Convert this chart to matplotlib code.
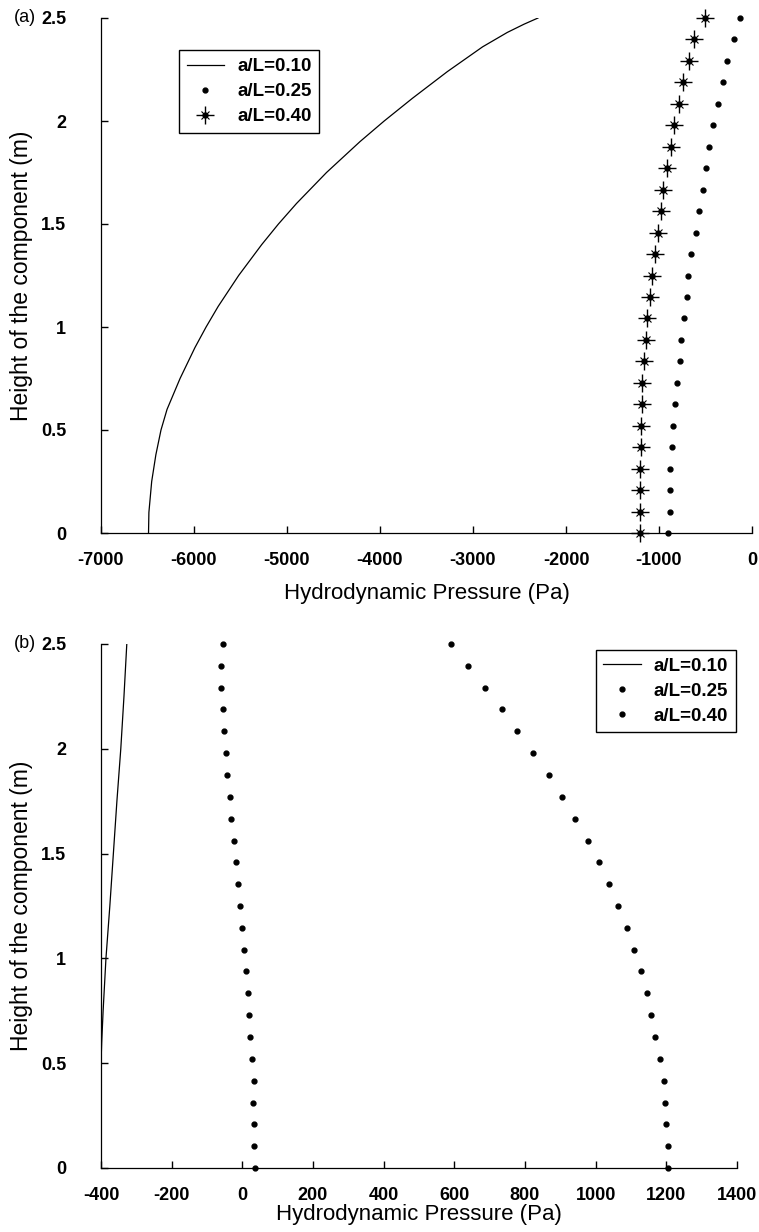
import matplotlib
matplotlib.use("Agg")
import matplotlib.pyplot as plt
from matplotlib.legend_handler import HandlerTuple

plt.rcParams['font.family'] = ['Liberation Sans', 'DejaVu Sans']

# heights of the 25 computed points, top to bottom (m)
heights = [2.5, 2.396, 2.292, 2.188, 2.083, 1.979, 1.875, 1.771, 1.667, 1.562,
           1.458, 1.354, 1.25, 1.146, 1.042, 0.938, 0.833, 0.729, 0.625, 0.521,
           0.417, 0.312, 0.208, 0.104, 0.0]

labels = ['a/L=0.10', 'a/L=0.25', 'a/L=0.40']

# panel (a)
a_line_h = [0.0, 0.1, 0.25, 0.38, 0.5, 0.6, 0.75, 0.9, 1.0, 1.1, 1.25, 1.4,
            1.5, 1.6, 1.75, 1.9, 2.0, 2.11, 2.24, 2.36, 2.43, 2.47, 2.5]
a_line_p = [-6489, -6485, -6455, -6410, -6355, -6290, -6150, -5990, -5870,
            -5740, -5520, -5272, -5092, -4897, -4575, -4215, -3955, -3652,
            -3275, -2897, -2631, -2451, -2301]
a_025 = [-125, -196, -264, -311, -368, -414, -461, -500, -532, -571, -604,
         -657, -686, -704, -729, -761, -779, -807, -825, -846, -864, -882,
         -882, -882, -900]
a_040 = [-507, -625, -679, -739, -789, -836, -871, -918, -954, -982, -1011,
         -1046, -1079, -1096, -1125, -1143, -1161, -1179, -1179, -1196, -1196,
         -1207, -1207, -1207, -1207]

# panel (b)
b_line_h = [2.5, 2.25, 2.0, 1.75, 1.5, 1.25, 1.0, 0.75, 0.6, 0.5, 0.0]
b_line_p = [-327, -335, -344, -355, -365, -375, -386, -394, -398, -400, -400]
b_025 = [-55, -60, -60, -55, -51, -47, -42, -34, -31, -23, -19, -13, -6, -1,
         6, 10, 16, 19, 23, 28, 32, 31, 34, 34, 35]
b_040 = [590, 640, 688, 734, 778, 822, 867, 906, 942, 977, 1009, 1037, 1062,
         1089, 1109, 1129, 1144, 1156, 1169, 1182, 1192, 1195, 1200, 1204, 1205]

W, H = 759, 1232
fig = plt.figure(figsize=(W / 100, H / 100), dpi=100)

ax1 = fig.add_axes([101 / W, 1 - 533 / H, (752 - 101) / W, (533 - 18) / H])
ax2 = fig.add_axes([101 / W, 1 - 1168 / H, (737 - 101) / W, (1168 - 644) / H])

tick_font = dict(fontsize=13, fontweight='bold')


def style(ax, xlim, xticks, xpad):
    ax.set_xlim(*xlim)
    ax.set_ylim(0, 2.5)
    ax.set_xticks(xticks)
    ax.set_yticks([0, 0.5, 1, 1.5, 2, 2.5])
    ax.set_yticklabels(['0', '0.5', '1', '1.5', '2', '2.5'], **tick_font)
    ax.set_xticklabels([str(t) for t in xticks], **tick_font)
    ax.spines['top'].set_visible(False)
    ax.spines['right'].set_visible(False)
    for s in ['left', 'bottom']:
        ax.spines[s].set_linewidth(0.9)
    ax.tick_params(axis='x', direction='in', length=5, width=1, pad=14)
    ax.tick_params(axis='y', direction='in', length=5, width=1, pad=25)
    ax.set_xlabel('Hydrodynamic Pressure (Pa)', fontsize=16, labelpad=xpad)
    ax.set_ylabel('Height of the component (m)', fontsize=16.5, labelpad=6)


leg_kw = dict(prop=dict(size=13.5, weight='bold'), frameon=True,
              fancybox=False, edgecolor='black', framealpha=1, borderpad=0.4,
              labelspacing=0.42, handlelength=2.0, handletextpad=0.7,
              borderaxespad=0)

# (a)
l1, = ax1.plot(a_line_p, a_line_h, color='black', lw=0.9)
d1, = ax1.plot(a_025, heights, ls='none', marker='o', ms=3.5, color='black',
               clip_on=False)
s1, = ax1.plot(a_040, heights, ls='none', marker='+', ms=13, mew=1.0,
               color='black', clip_on=False)
s2, = ax1.plot(a_040, heights, ls='none', marker='x', ms=6, mew=0.8,
               color='black', clip_on=False)
s3, = ax1.plot(a_040, heights, ls='none', marker='o', ms=3.5, color='black',
               clip_on=False)
style(ax1, (-7000, 0), list(range(-7000, 1, 1000)), 10)
ax1.legend([l1, d1, (s1, s2, s3)], labels,
           handler_map={tuple: HandlerTuple(ndivide=1)},
           loc='upper left', bbox_to_anchor=(0.12, 0.937), **leg_kw)
ax1.get_legend().get_frame().set_linewidth(1.0)

# (b)
l2, = ax2.plot(b_line_p, b_line_h, color='black', lw=0.9)
d2, = ax2.plot(b_025, heights, ls='none', marker='o', ms=3.5, color='black',
               clip_on=False)
d3, = ax2.plot(b_040, heights, ls='none', marker='o', ms=3.5, color='black',
               clip_on=False)
style(ax2, (-400, 1400), list(range(-400, 1401, 200)), 0)
ax2.legend([l2, d2, d3], labels, loc='upper right',
           bbox_to_anchor=(0.998, 0.988), **leg_kw)
ax2.get_legend().get_frame().set_linewidth(1.0)

fig.text(14 / W, 1 - 18 / H, '(a)', fontsize=13, va='center', ha='left')
fig.text(14 / W, 1 - 644 / H, '(b)', fontsize=13, va='center', ha='left')

fig.savefig('out.png', dpi=100)
